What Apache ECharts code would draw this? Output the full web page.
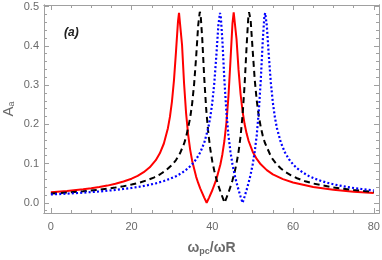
<!DOCTYPE html>
<html><head><meta charset="utf-8">
<script src="https://cdn.jsdelivr.net/npm/echarts@6/dist/echarts.min.js"></script>
<style>html,body{margin:0;padding:0;background:#fff}#c{width:382px;height:260px}</style>
</head><body><div id="c"></div>
<script>
// ---- data ----
const redX = [0,4,8,10,12,14,16,18,20,21.5,23,24.5,26,27,28,29,29.5,30,30.5,31,31.5,31.75,32,32.5,33,33.5,34,34.5,35,36,36.5,37,38,38.6,39.2,40,41,42,42.5,43,43.5,44,44.5,45,45.3,45.5,46,46.5,47,47.5,48,48.5,49,50,51,52,53.5,55,57.5,60,65,70,75,80];
const redY = [0.0267,0.0300,0.0343,0.0369,0.0401,0.0438,0.0484,0.0541,0.0614,0.0686,0.0779,0.0905,0.1086,0.126,0.1511,0.1901,0.2188,0.2578,0.3118,0.3846,0.4622,0.484,0.48,0.4027,0.3047,0.2288,0.175,0.1363,0.1073,0.0662,0.0506,0.037,0.0132,0,0.0132,0.032,0.0597,0.0976,0.1238,0.1581,0.205,0.2712,0.362,0.4575,0.4851,0.4815,0.4174,0.3386,0.2772,0.2329,0.2006,0.1763,0.1575,0.1303,0.1117,0.098,0.0832,0.0726,0.0602,0.0516,0.0404,0.0333,0.0284,0.0248];
const blackX = [0,4,8,12,16,18,20,22,24,25.5,27,28.5,30,31,32,33,33.5,34.5,35,35.5,36,36.5,36.9,37.1,37.5,38,38.5,39,39.5,40,40.5,41,41.5,42,43.05,44.1,44.6,45,45.5,46,46.5,47,47.5,48,48.5,48.9,49.1,49.5,50,50.5,51,51.5,52,52.5,53,54.5,55,56,57,58,59.5,61,63,65,70,75,80];
const blackY = [0.0237,0.0262,0.0294,0.0334,0.0388,0.0423,0.0465,0.0516,0.0581,0.0643,0.0721,0.0823,0.0963,0.109,0.1262,0.1505,0.1671,0.2154,0.2523,0.3031,0.3724,0.452,0.4866,0.4798,0.4195,0.3182,0.2366,0.1785,0.1368,0.1055,0.0811,0.0611,0.044,0.0288,0,0.0288,0.044,0.0574,0.0768,0.1002,0.1298,0.1691,0.2233,0.2998,0.3993,0.4695,0.4856,0.4654,0.3885,0.3154,0.2612,0.2219,0.1929,0.1709,0.1536,0.1187,0.1105,0.0974,0.0874,0.0793,0.0699,0.0625,0.055,0.0491,0.039,0.0324,0.0278];
const blueX = [0,4,8,12,16,18,20,22,24,26,28,29.5,31,32.5,34,35,36,37,38,39,39.5,40,40.5,41,41.5,41.9,42.1,42.5,43,43.5,44,44.5,45,45.5,46,46.5,47,47.5,48,48.5,49,49.5,50,50.5,51,51.5,52,52.5,52.9,53.1,53.5,54,54.5,55,55.5,56,57,58,59,60,61,62.5,64,65.5,67,69,71,73,75,77,80];
const blueY = [0.0213,0.0233,0.0258,0.0288,0.0327,0.0351,0.0378,0.0411,0.0449,0.0496,0.0555,0.061,0.0678,0.0765,0.0879,0.098,0.1109,0.1282,0.1529,0.1907,0.2183,0.2553,0.3061,0.3749,0.4521,0.4836,0.4749,0.4129,0.3114,0.23,0.1717,0.1296,0.0977,0.0724,0.0514,0.0329,0.0161,0,0.0161,0.0329,0.0514,0.0724,0.0977,0.1296,0.1717,0.23,0.3114,0.4129,0.4749,0.4836,0.4521,0.3749,0.3061,0.2553,0.2183,0.1907,0.1529,0.1282,0.1109,0.098,0.0879,0.0765,0.0678,0.061,0.0555,0.0496,0.0449,0.0411,0.0378,0.0351,0.0316];

const xMajorTicks = [0,20,40,60,80];
const xMinorTicks = [0,5,10,15,20,25,30,35,40,45,50,55,60,65,70,75,80];
const yMajorTicks = [0,0.1,0.2,0.3,0.4,0.5];
const yMinorTicks = [-0.02,0,0.02,0.04,0.06,0.08,0.1,0.12,0.14,0.16,0.18,0.2,0.22,0.24,0.26,0.28,0.3,0.32,0.34,0.36,0.38,0.4,0.42,0.44,0.46,0.48,0.5];

const X_MIN = -1.7, X_MAX = 81.3, Y_MIN = -0.026, Y_MAX = 0.504;
const AXC = '#a0a0a0', TXC = '#6a6a6a', FONT = 'Liberation Sans, Arial, sans-serif';

function pairs(xs, ys){ return xs.map((x,i)=>[x, ys[i]]); }

function mkAxis(kind, pos, ticks, len, labels, extra){
  const ax = {
    type:'value', position:pos,
    min: kind==='x'?X_MIN:Y_MIN, max: kind==='x'?X_MAX:Y_MAX,
    axisLine:{show:true, onZero:false, lineStyle:{color:AXC, width:1}},
    axisTick:{show:true, inside:true, length:len, customValues:ticks, lineStyle:{color:AXC, width:1}},
    axisLabel:{show:labels, customValues:ticks, color:TXC, fontSize:11, fontFamily:FONT,
      margin: kind==='x'?8:5,
      formatter: kind==='x' ? (v=>String(Math.round(v))) : (v=>v.toFixed(1))},
    splitLine:{show:false}, minorTick:{show:false}, minorSplitLine:{show:false},
    nameMoveOverlap:false
  };
  return Object.assign(ax, extra||{});
}

const chart = echarts.init(document.getElementById('c'), null, {renderer:'canvas'});
chart.setOption({
  animation:false,
  backgroundColor:'#fff',
  grid:{left:44, right:3, top:5, bottom:47, containLabel:false, outerBoundsMode:'none'},
  xAxis:[
    mkAxis('x','bottom',xMajorTicks,5,true,{
      name:'{w|ω}{s|pc}{w|/ωR}', nameLocation:'middle', nameGap:28,
      nameTextStyle:{rich:{
        w:{fontSize:14, fontWeight:'bold', color:TXC, fontFamily:FONT},
        s:{fontSize:9, fontWeight:'bold', color:TXC, fontFamily:FONT, verticalAlign:'bottom', padding:[6,0,0,0]}
      }}
    }),
    mkAxis('x','bottom',xMinorTicks,3,false),
    mkAxis('x','top',xMajorTicks,5,false),
    mkAxis('x','top',xMinorTicks,3,false)
  ],
  yAxis:[
    mkAxis('y','left',yMajorTicks,5,true,{
      name:'{a|A}{s|a}', nameLocation:'middle', nameGap:28,
      nameTextStyle:{rich:{
        a:{fontSize:15, color:TXC, fontFamily:FONT},
        s:{fontSize:9, color:TXC, fontFamily:FONT, verticalAlign:'bottom', padding:[6,0,0,0]}
      }}
    }),
    mkAxis('y','left',yMinorTicks,3,false),
    mkAxis('y','right',yMajorTicks,5,false),
    mkAxis('y','right',yMinorTicks,3,false)
  ],
  graphic:[{
    type:'text', left:64, top:27,
    style:{text:'(a)', fontSize:12, fontWeight:'bold', fontStyle:'italic', fill:'#222', fontFamily:FONT}
  }],
  series:[
    {type:'line', name:'red', data:pairs(redX, redY), showSymbol:false, symbol:'none',
      lineStyle:{color:'#ff0000', width:2}, z:3},
    {type:'line', name:'black', data:pairs(blackX, blackY), showSymbol:false, symbol:'none',
      lineStyle:{color:'#000000', width:2, type:[6,4]}, z:4},
    {type:'line', name:'blue', data:pairs(blueX, blueY), showSymbol:false, symbol:'none',
      lineStyle:{color:'#0000ff', width:2.2, type:[2,2.2]}, z:5}
  ]
});
</script>
</body></html>
